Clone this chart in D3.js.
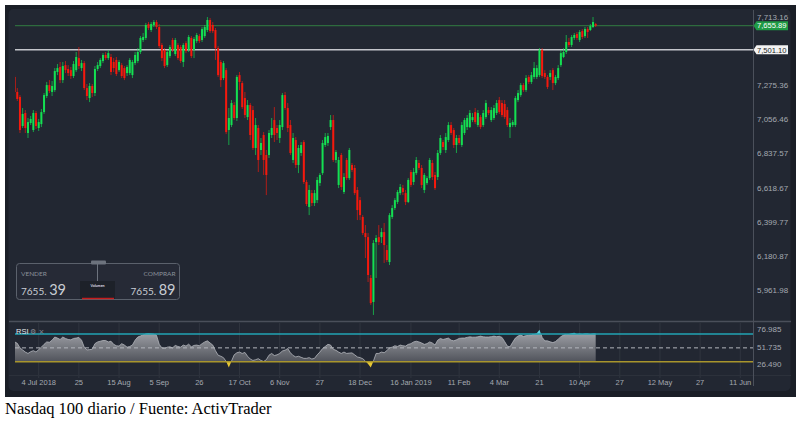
<!DOCTYPE html>
<html>
<head>
<meta charset="utf-8">
<script src="https://cdn.jsdelivr.net/npm/d3@7"></script>
<style>
  body { margin: 0; background: #fff; }
  svg { display: block; }
</style>
</head>
<body>
<script>
// Nasdaq 100 daily candles (one entry per bar)
var open = [
  7327,7231,7199,7013,7096,6968,7032,6987,7096,7000,
  7025,7102,7205,7275,7231,7243,7359,7391,7307,7403,
  7378,7371,7333,7371,7448,7384,7416,7256,7192,7269,
  7224,7378,7397,7429,7468,7448,7455,7423,7436,7371,
  7403,7384,7352,7352,7339,7416,7429,7487,7564,7577,
  7666,7628,7660,7679,7647,7532,7500,7403,7461,7564,
  7474,7532,7519,7423,7544,7500,7577,7500,7557,7589,
  7564,7589,7628,7692,7660,7628,7512,7423,7320,7371,
  6987,7019,7147,7064,7339,7288,7192,7070,7147,7115,
  6872,7000,6859,6955,6827,6827,6955,7051,7000,6936,
  7006,7211,7128,7019,6795,6923,6763,6840,6910,6654,
  6494,6583,6519,6538,6647,6711,6891,6904,7006,7051,
  6795,6635,6827,6590,6795,6679,6763,6744,6603,6538,
  6430,6327,6301,6039,5885,6269,6301,6301,6333,6218,
  6141,6430,6487,6526,6583,6615,6583,6526,6718,6654,
  6711,6776,6744,6603,6647,6679,6776,6699,6686,6840,
  6910,6859,6923,7019,6987,6891,6936,6891,6968,7006,
  7006,7051,7102,7019,7070,7019,7070,7115,7051,7064,
  7096,7179,7160,7154,7115,7006,7019,7019,7179,7211,
  7275,7243,7327,7295,7327,7327,7339,7500,7352,7327,
  7327,7371,7288,7320,7403,7455,7487,7551,7532,7577,
  7602,7564,7621,7589,7634,7628,7647,7666
];
var high = [
  7339,7256,7211,7128,7115,7064,7077,7115,7109,7058,
  7122,7224,7295,7307,7301,7384,7410,7423,7423,7429,
  7403,7391,7429,7487,7519,7436,7429,7282,7288,7282,
  7397,7423,7448,7480,7487,7500,7474,7448,7455,7436,
  7416,7397,7403,7448,7436,7487,7512,7589,7609,7673,
  7679,7679,7692,7692,7666,7544,7512,7500,7532,7577,
  7577,7544,7532,7544,7557,7596,7589,7583,7609,7602,
  7647,7660,7711,7705,7679,7641,7525,7436,7429,7384,
  7128,7179,7166,7339,7359,7301,7231,7179,7160,7141,
  7064,7019,6936,6974,6859,6987,7064,7134,7019,7051,
  7224,7231,7160,7051,6968,6942,6891,6910,6923,6667,
  6635,6603,6603,6686,6711,6923,6968,6968,7083,7083,
  6859,6814,6840,6711,6808,6872,6776,6763,6622,6558,
  6442,6378,6327,6058,6282,6314,6378,6359,6391,6250,
  6455,6506,6551,6603,6641,6635,6603,6679,6731,6744,
  6814,6795,6763,6711,6692,6808,6795,6718,6859,6955,
  6923,6968,7038,7038,7000,6955,6955,7038,7064,7083,
  7115,7096,7128,7115,7083,7115,7179,7134,7134,7147,
  7179,7199,7179,7179,7134,7064,7051,7205,7243,7288,
  7288,7339,7339,7359,7423,7403,7512,7512,7371,7339,
  7371,7384,7339,7403,7500,7512,7596,7577,7596,7609,
  7615,7628,7634,7647,7647,7666,7711,7673
];
var low = [
  7199,7173,6968,7000,6968,6936,7019,6974,6993,6981,
  7006,7090,7192,7224,7205,7231,7339,7288,7288,7352,
  7333,7314,7320,7359,7378,7365,7243,7179,7166,7199,
  7205,7365,7384,7416,7436,7436,7339,7359,7333,7359,
  7320,7307,7333,7339,7320,7403,7416,7474,7551,7564,
  7628,7615,7647,7634,7512,7429,7384,7391,7448,7487,
  7461,7436,7416,7391,7480,7487,7448,7448,7544,7544,
  7551,7577,7615,7609,7609,7436,7327,7263,7307,6961,
  6891,7006,7051,7045,7243,7122,7064,7051,6923,6859,
  6827,6718,6827,6699,6570,6808,6936,6910,6923,6904,
  6987,7115,6974,6827,6776,6744,6711,6821,6641,6500,
  6442,6500,6500,6519,6628,6699,6878,6885,6987,6782,
  6776,6615,6603,6577,6667,6667,6718,6570,6410,6410,
  6314,6167,6013,5866,5802,6039,6250,6263,6135,6141,
  6122,6417,6474,6513,6570,6570,6506,6519,6622,6635,
  6699,6731,6615,6583,6635,6667,6667,6603,6667,6827,
  6859,6840,6910,6955,6872,6840,6891,6878,6955,6987,
  7000,7038,7025,7006,6993,7006,7058,7083,7038,7051,
  7083,7090,7070,7058,7006,6936,7006,7006,7166,7199,
  7231,7231,7282,7282,7314,7314,7327,7320,7314,7250,
  7307,7243,7275,7307,7391,7448,7474,7519,7519,7564,
  7564,7551,7570,7577,7577,7621,7641,7647
];
var close = [
  7231,7186,6987,7090,7000,7038,7058,7096,7013,7038,
  7102,7211,7275,7237,7269,7365,7384,7307,7397,7371,
  7352,7333,7410,7455,7397,7416,7256,7205,7269,7224,
  7378,7403,7436,7468,7448,7480,7359,7384,7346,7423,
  7333,7320,7391,7436,7423,7468,7487,7577,7583,7660,
  7641,7666,7679,7647,7525,7448,7397,7487,7519,7500,
  7564,7448,7429,7532,7493,7583,7461,7570,7596,7557,
  7634,7647,7692,7621,7621,7512,7339,7307,7416,6974,
  7064,7160,7064,7327,7295,7134,7083,7147,6955,6872,
  7019,6795,6904,6795,6699,6968,7000,6955,6968,7019,
  7211,7128,7000,6840,6936,6763,6872,6891,6654,6513,
  6603,6519,6583,6667,6699,6904,6942,6949,7051,6795,
  6846,6795,6622,6686,6679,6859,6731,6583,6474,6442,
  6327,6301,6058,5878,6263,6295,6269,6333,6250,6154,
  6442,6487,6538,6590,6622,6590,6526,6667,6635,6718,
  6795,6744,6635,6699,6679,6795,6686,6615,6840,6936,
  6878,6942,7019,6968,6891,6936,6904,7019,7051,7064,
  7096,7070,7038,7096,7006,7096,7160,7096,7115,7128,
  7160,7102,7083,7070,7019,7032,7038,7192,7224,7275,
  7243,7320,7295,7339,7384,7384,7500,7333,7327,7263,
  7352,7288,7327,7384,7480,7487,7551,7532,7583,7596,
  7577,7615,7583,7634,7615,7653,7679,7655.89
];
// RSI per bar
var rsi = [
  58.6,56.5,50,47,44,42,44.5,46,44,47.5,
  51,55,58.5,58,61,65.5,64,62,65.5,63.5,
  62,61.5,63.5,64,65,61,51,47,47.5,48,
  56,58.5,59.5,60.5,60.5,58.5,59.5,55,53,52.5,
  56,54,51,52,54,61,65.5,67,68.5,70.7,
  71,70.5,70.2,68,55,50,49,51,51.5,50,
  53.5,52,51,54,52.5,55.3,51.5,53.5,54,53,
  56,58.5,60,57,54,46,39.5,38,36,30.5,
  22,31,40,43,44,42,43.5,38,34,32,
  33,34.5,32,30.5,33,39.5,42,39,40,42,
  45.5,46.7,49,43,39,37,38,36.5,35,35,
  36,34,35,40,44,49,52,55,54,48,
  46.5,44,42,44,42,42.5,42.8,40,37,36,
  34.5,31,27,22,31,42,42,44,43,46,
  50,51,53,52,54,53,52.5,55,56,58.5,
  59.5,58.5,57,55,56,58.5,57,54,61,63.5,
  62,63,64,61,60,61.5,63.5,64,64,65,
  65.8,65.3,65.3,65.8,66.8,65.8,65.5,65.5,66,66.8,
  66,66.5,65,59,52.5,51.5,58,64,67,68.3,
  66.5,67.5,68,68.5,69.7,71,76,65,60,60,
  58.6,57.5,59,62.5,66,68.3,69.5,70,71,71.6,
  70,70.5,70,70.7,70.5,70,70.7,70.5
];

var priceTicks = [7713.16, 7275.36, 7056.46, 6837.57, 6618.67, 6399.77, 6180.87, 5961.98];
var rsiTicks = [76.985, 51.735, 26.490];
var rsiLevels = [70, 50, 30];
var tickBars = [9, 24, 39, 54, 69, 84, 99, 114, 129, 148, 166, 181, 196, 211, 226, 241, 256, 271];
var tickLabels = ['4 Jul 2018', '25', '15 Aug', '5 Sep', '26', '17 Oct', '6 Nov', '27', '18 Dec',
  '16 Jan 2019', '11 Feb', '4 Mar', '21', '10 Apr', '27', '12 May', '27', '11 Jun'];
var lastPrice = 7655.89;
var levelPrice = 7501.10;
var sellPrice = ['7655.', '39'];
var buyPrice = ['7655.', '89'];

var width = 801, height = 423;
var plotL = 15, plotR = 753, plotT = 10, plotB = 321;
var up = '#14e052', down = '#f5190d';
var fmt = d3.format(',.2f');

var svg = d3.select('body').append('svg')
  .attr('width', width)
  .attr('height', height);

// frame
svg.append('rect').attr('x', 5).attr('y', 5).attr('width', 791).attr('height', 392).attr('fill', '#1a1e26');
svg.append('rect').attr('x', 8.5).attr('y', 9).attr('width', 782).attr('height', 382).attr('rx', 5).attr('fill', '#222732');

var x = d3.scaleLinear().domain([0, 271]).range([14.6, 740.3]);
var y = d3.scaleLinear().domain([5961.98, 7713.16]).range([290, 16.7]);
var r = d3.scaleLinear().domain([26.49, 76.985]).range([364.3, 329]);

var defs = svg.append('defs');
defs.append('clipPath').attr('id', 'clipPrice').append('rect')
  .attr('x', plotL).attr('y', plotT).attr('width', plotR - plotL).attr('height', plotB - plotT);
defs.append('clipPath').attr('id', 'clipMid').append('rect')
  .attr('x', plotL).attr('y', r(70)).attr('width', plotR - plotL).attr('height', r(30) - r(70));
defs.append('clipPath').attr('id', 'clipHigh').append('rect')
  .attr('x', plotL).attr('y', 323).attr('width', plotR - plotL).attr('height', r(70) - 323);
defs.append('clipPath').attr('id', 'clipLow').append('rect')
  .attr('x', plotL).attr('y', r(30)).attr('width', plotR - plotL).attr('height', 374 - r(30));
var grad = defs.append('linearGradient').attr('id', 'rsiGrad')
  .attr('gradientUnits', 'userSpaceOnUse')
  .attr('x1', 0).attr('x2', 0).attr('y1', r(70)).attr('y2', r(30));
grad.append('stop').attr('offset', 0).attr('stop-color', '#9a9ca2');
grad.append('stop').attr('offset', 1).attr('stop-color', '#50535b');

// vertical grid in the RSI / time axis strip
svg.append('g').selectAll('line').data(tickBars).enter().append('line')
  .attr('x1', function (d) { return x(d); })
  .attr('x2', function (d) { return x(d); })
  .attr('y1', 323).attr('y2', 378)
  .attr('stroke', '#30353f').attr('stroke-width', 1);

svg.append('line').attr('x1', 9).attr('x2', 791).attr('y1', 375.5).attr('y2', 375.5)
  .attr('stroke', '#2c313b');
svg.append('line').attr('x1', 9).attr('x2', 791).attr('y1', 321.5).attr('y2', 321.5)
  .attr('stroke', '#4a4f5a').attr('stroke-width', 1.5);
svg.append('line').attr('x1', 753.5).attr('x2', 753.5).attr('y1', 10).attr('y2', 386)
  .attr('stroke', '#4b505b');

// price level lines
svg.append('line').attr('x1', plotL).attr('x2', plotR)
  .attr('y1', y(lastPrice)).attr('y2', y(lastPrice))
  .attr('stroke', '#2e6b3e').attr('stroke-width', 1.2);
svg.append('line').attr('x1', plotL).attr('x2', plotR)
  .attr('y1', y(levelPrice)).attr('y2', y(levelPrice))
  .attr('stroke', '#c4c6cb').attr('stroke-width', 1.6);

// candles
var idx = d3.range(close.length);
var cg = svg.append('g').attr('clip-path', 'url(#clipPrice)');
cg.selectAll('line.wick').data(idx).enter().append('line')
  .attr('class', 'wick')
  .attr('x1', function (i) { return x(i); })
  .attr('x2', function (i) { return x(i); })
  .attr('y1', function (i) { return y(high[i]); })
  .attr('y2', function (i) { return y(low[i]); })
  .attr('stroke', function (i) { return close[i] >= open[i] ? up : down; })
  .attr('stroke-width', 0.9)
  .attr('stroke-opacity', 0.75);
cg.selectAll('rect.body').data(idx).enter().append('rect')
  .attr('class', 'body')
  .attr('x', function (i) { return x(i) - 1; })
  .attr('width', 2)
  .attr('y', function (i) { return y(Math.max(open[i], close[i])); })
  .attr('height', function (i) { return Math.max(1, Math.abs(y(open[i]) - y(close[i]))); })
  .attr('fill', function (i) { return close[i] >= open[i] ? up : down; });

// right price axis
svg.append('g').selectAll('text').data(priceTicks).enter().append('text')
  .attr('x', 757)
  .attr('y', function (d) { return y(d) + 3; })
  .attr('fill', '#a4a9b1')
  .attr('font-family', 'Liberation Sans, Arial, sans-serif')
  .attr('font-size', 8)
  .text(function (d) { return fmt(d); });

function tag(v, fill, color) {
  var yy = y(v);
  svg.append('path')
    .attr('d', 'M753.5,' + yy + 'L756.5,' + (yy - 4.5) + 'H788V' + (yy + 4.5) + 'H756.5Z')
    .attr('fill', fill);
  svg.append('text').attr('x', 757).attr('y', yy + 2.8)
    .attr('fill', color)
    .attr('font-family', 'Liberation Sans, Arial, sans-serif')
    .attr('font-size', 7.6)
    .text(fmt(v));
}
tag(lastPrice, '#1f9a45', '#ffffff');
tag(levelPrice, '#f3f3f3', '#1c1f26');

// RSI panel
var rsiArea = d3.area()
  .x(function (d, i) { return x(i); })
  .y0(r(30))
  .y1(function (d) { return r(d); });
svg.append('path').datum(rsi).attr('d', rsiArea)
  .attr('fill', 'url(#rsiGrad)').attr('clip-path', 'url(#clipMid)');
svg.append('path').datum(rsi).attr('d', rsiArea)
  .attr('fill', '#5fd4e2').attr('clip-path', 'url(#clipHigh)');
svg.append('path').datum(rsi).attr('d', rsiArea)
  .attr('fill', '#e5c634').attr('clip-path', 'url(#clipLow)');
svg.append('path').datum(rsi)
  .attr('d', d3.line().x(function (d, i) { return x(i); }).y(function (d) { return r(d); }))
  .attr('fill', 'none').attr('stroke', '#b4b6bc').attr('stroke-width', 0.8)
  .attr('clip-path', 'url(#clipMid)');

var levelStyle = [
  { stroke: '#22a4b4', width: 1.5, dash: null },
  { stroke: '#b3b6bc', width: 1, dash: '4,3' },
  { stroke: '#a8952c', width: 1.5, dash: null }
];
svg.append('g').selectAll('line').data(rsiLevels).enter().append('line')
  .attr('x1', plotL).attr('x2', plotR)
  .attr('y1', function (d) { return r(d); })
  .attr('y2', function (d) { return r(d); })
  .attr('stroke', function (d, i) { return levelStyle[i].stroke; })
  .attr('stroke-width', function (d, i) { return levelStyle[i].width; })
  .attr('stroke-dasharray', function (d, i) { return levelStyle[i].dash; });

svg.append('g').selectAll('text').data(rsiTicks).enter().append('text')
  .attr('x', 757)
  .attr('y', function (d) { return r(d) + 3; })
  .attr('fill', '#a4a9b1')
  .attr('font-family', 'Liberation Sans, Arial, sans-serif')
  .attr('font-size', 8)
  .text(function (d) { return d3.format('.3f')(d); });

svg.append('text').attr('x', 16).attr('y', 334)
  .attr('fill', '#e4e7ec').attr('font-family', 'Liberation Sans, Arial, sans-serif')
  .attr('font-size', 7.5).text('RSI');
svg.append('text').attr('x', 30).attr('y', 334)
  .attr('fill', '#8d929b').attr('font-family', 'DejaVu Sans, sans-serif')
  .attr('font-size', 7).text('\u2699 \u00d7');

// time axis
svg.append('g').selectAll('text').data(tickBars).enter().append('text')
  .attr('x', function (d) { return x(d); })
  .attr('y', 385)
  .attr('text-anchor', 'middle')
  .attr('fill', '#a4a9b1')
  .attr('font-family', 'Liberation Sans, Arial, sans-serif')
  .attr('font-size', 7.5)
  .text(function (d, i) { return tickLabels[i]; });

// sell / buy widget
var wg = svg.append('g').attr('font-family', 'Lato, sans-serif');
wg.append('rect').attr('x', 16.5).attr('y', 263.5).attr('width', 163).attr('height', 36).attr('rx', 3)
  .attr('fill', '#272c37').attr('fill-opacity', 0.85).attr('stroke', '#5b616c');
wg.append('rect').attr('x', 91).attr('y', 260.5).attr('width', 15).attr('height', 4).attr('rx', 1)
  .attr('fill', '#6d737e');
wg.append('line').attr('x1', 97.5).attr('x2', 97.5).attr('y1', 264).attr('y2', 281)
  .attr('stroke', '#6d737e');
wg.append('rect').attr('x', 80).attr('y', 281).attr('width', 35).attr('height', 18)
  .attr('fill', '#1d2129');
wg.append('line').attr('x1', 82).attr('x2', 114).attr('y1', 298.5).attr('y2', 298.5)
  .attr('stroke', '#c51d1d').attr('stroke-width', 1.5);
wg.append('text').attr('x', 97.5).attr('y', 286.5).attr('text-anchor', 'middle')
  .attr('fill', '#d9dce2').attr('font-size', 3.6).attr('font-weight', 'bold').text('Volumen');
wg.append('text').attr('x', 21).attr('y', 276).attr('fill', '#8b919b').attr('font-size', 6.5).text('VENDER');
wg.append('text').attr('x', 175.5).attr('y', 276).attr('text-anchor', 'end')
  .attr('fill', '#8b919b').attr('font-size', 6.5).text('COMPRAR');
var st = wg.append('text').attr('x', 21).attr('y', 294.5).attr('fill', '#c9cdd4');
st.append('tspan').attr('font-size', 10).text(sellPrice[0] + ' ');
st.append('tspan').attr('font-size', 14.5).text(sellPrice[1]);
var bt = wg.append('text').attr('x', 175.5).attr('y', 294.5).attr('text-anchor', 'end').attr('fill', '#c9cdd4');
bt.append('tspan').attr('font-size', 10).text(buyPrice[0] + ' ');
bt.append('tspan').attr('font-size', 14.5).text(buyPrice[1]);

// caption
svg.append('text').attr('x', 5).attr('y', 414)
  .attr('fill', '#000')
  .attr('font-family', 'Liberation Serif, Times New Roman, serif')
  .attr('font-size', 16.5)
  .text('Nasdaq 100 diario / Fuente: ActivTrader');
</script>
</body>
</html>
